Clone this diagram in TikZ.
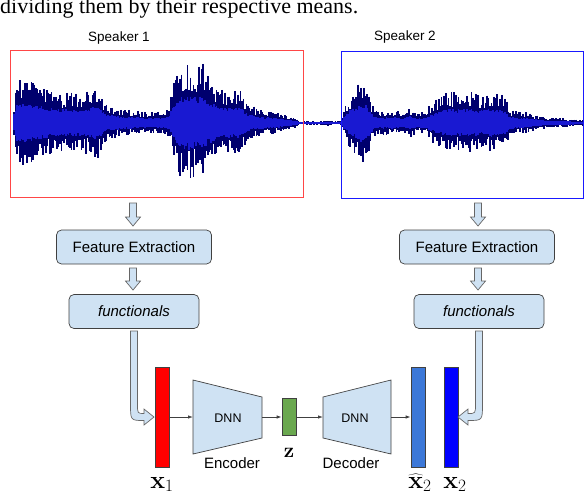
\documentclass[tikz,border=0pt]{standalone}
\usepackage[no-math]{fontspec}
\setmainfont{Liberation Sans}
\newfontfamily\capfont{Liberation Serif}
\usetikzlibrary{arrows.meta,calc}
\definecolor{boxblue}{RGB}{207,226,243}
\definecolor{wavenavy}{RGB}{0,0,110}
\definecolor{waveblue}{RGB}{25,25,210}
\definecolor{spkred}{RGB}{255,70,70}
\definecolor{spkblue}{RGB}{25,25,255}
\definecolor{zgreen}{RGB}{106,168,79}
\definecolor{hatblue}{RGB}{60,120,216}
\tikzset{
  wavedark/.style={draw=wavenavy,line width=1.8pt},
  wavecore/.style={draw=waveblue,line width=1.8pt},
  spkbox/.style={minimum width=293pt,minimum height=147pt,inner sep=0pt,line width=0.9pt},
  lbl/.style={font=\fontsize{13.5}{16}\selectfont},
  procbox/.style={draw=black!75,fill=boxblue,rounded corners=5pt,minimum height=34pt,
    line width=0.7pt,font=\fontsize{15}{18}\selectfont},
  bentarr/.style={draw=black!60,fill=boxblue,line width=0.7pt},
  featbar/.style={draw=black!75,minimum width=14pt,minimum height=100pt,inner sep=0pt,line width=0.7pt},
  dnnblock/.style={draw=black!75,fill=boxblue,line width=0.7pt},
  conn/.style={draw=black!75,line width=0.8pt,-{Latex[length=5pt,width=3.5pt]}},
  mathlbl/.style={anchor=base,font=\fontsize{23}{27}\selectfont},
  txt/.style={font=\fontsize{15}{18}\selectfont},
}
% envelope of the two recordings: x / amplitude
\def\envelope{14/20, 17/42, 22/46, 30/42, 40/38, 50/33, 60/30, 70/32, 80/30, 90/34, 98/38,
  102/28, 108/18, 115/16, 125/14, 135/13, 145/11, 155/11, 165/12, 170/18, 174/42, 180/56,
  186/62, 195/58, 203/60, 208/50, 215/40, 222/34, 232/36, 242/34, 248/20, 255/16, 265/13,
  275/12, 285/8, 295/5, 300/2, 310/2, 320/1.5, 328/3, 334/2, 341/2, 344/14, 350/28, 356/36,
  361/45, 366/40, 370/25, 375/14, 385/13, 395/13, 402/10, 410/16, 418/10, 425/12, 432/20,
  440/28, 450/32, 460/30, 470/32, 480/28, 490/32, 500/30, 505/26, 510/14, 520/12, 530/10,
  540/7, 550/5, 560/5, 570/4, 583/3}

\begin{document}
\begin{tikzpicture}[x=1pt,y=-1pt]
  \useasboundingbox (0,0) rectangle (584,496);
  \node[anchor=base west,inner sep=0pt,font=\capfont\fontsize{22}{25}\selectfont] (cap) at (0,13)
    {dividing them by their respective means.};

  % waveform
  \pgfmathsetseed{3}
  \foreach \xb/\ab [remember=\xb as \xa (initially 12), remember=\ab as \aa (initially 2)] in \envelope {
    \pgfmathtruncatemacro\ns{max(1,(\xb-\xa)/1.3)}
    \foreach \i in {1,...,\ns} {
      \pgfmathsetmacro\xx{\xa+(\xb-\xa)*\i/\ns}
      \pgfmathsetmacro\env{\aa+(\ab-\aa)*\i/\ns}
      \pgfmathsetmacro\up{\env*(0.5+0.5*rnd)}
      \pgfmathsetmacro\dn{\env*(0.45+0.5*rnd)}
      \draw[wavedark] (\xx,123-\up) -- (\xx,123+\dn);
    }
  }
  \foreach \xb/\ab [remember=\xb as \xa (initially 12), remember=\ab as \aa (initially 2)] in \envelope {
    \pgfmathtruncatemacro\ns{max(1,(\xb-\xa)/1.3)}
    \foreach \i in {1,...,\ns} {
      \pgfmathsetmacro\xx{\xa+(\xb-\xa)*\i/\ns}
      \pgfmathsetmacro\env{\aa+(\ab-\aa)*\i/\ns}
      \pgfmathsetmacro\up{\env*(0.34+0.12*rnd)}
      \pgfmathsetmacro\dn{\env*(0.32+0.12*rnd)}
      \draw[wavecore] (\xx,123-\up) -- (\xx,123+\dn);
    }
  }

  \node[spkbox,draw=spkred] (spk1) at (156.5,123.5) {};
  \node[spkbox,draw=spkblue,minimum width=242pt] (spk2) at (462,124.5) {};
  \node[lbl] (lab1) at (119,38) {Speaker 1};
  \node[lbl] (lab2) at (405,37) {Speaker 2};

  % feature pipelines
  \node[procbox,minimum width=155pt] (fe1) at (134,247) {Feature Extraction};
  \node[procbox,minimum width=130pt] (fn1) at (134,311.5) {\textit{functionals}};
  \node[procbox,minimum width=155pt] (fe2) at (477,247) {Feature Extraction};
  \node[procbox,minimum width=130pt] (fn2) at (479,311.5) {\textit{functionals}};
  \foreach \ax/\ya/\yb in {133/203/226, 133/268/290, 478/203/226, 478/268/290}
    \draw[bentarr] (\ax-3.5,\ya) -- (\ax-3.5,\yb-9) -- (\ax-7.5,\yb-9) -- (\ax,\yb)
      -- (\ax+7.5,\yb-9) -- (\ax+3.5,\yb-9) -- (\ax+3.5,\ya) -- cycle;

  % vectors
  \node[featbar,fill=red] (x1) at (162,417) {};
  \node[featbar,fill=zgreen,minimum height=37pt] (z) at (289,416.5) {};
  \node[featbar,fill=hatblue] (x2hat) at (418,417) {};
  \node[featbar,fill=blue] (x2) at (451,417) {};

  \draw[bentarr] (130.5,331) -- (130.5,404) .. controls (130.5,420.5) .. (144,420.5) -- (144,425)
    -- (154,417) -- (144,409) -- (144,413.5) .. controls (137.5,413.5) .. (137.5,404) -- (137.5,331) -- cycle;
  \draw[bentarr] (482.5,331) -- (482.5,404) .. controls (482.5,420.5) .. (468,420.5) -- (468,425)
    -- (458,417) -- (468,409) -- (468,413.5) .. controls (475.5,413.5) .. (475.5,404) -- (475.5,331) -- cycle;

  % encoder / decoder
  \draw[dnnblock] (193,380) -- (262,397) -- (262,438) -- (193,454) -- cycle;
  \draw[dnnblock] (323,397) -- (391,380) -- (391,454) -- (323,438) -- cycle;
  \coordinate (encin) at (193,417);
  \coordinate (encout) at (262,417);
  \coordinate (decin) at (323,417);
  \coordinate (decout) at (391,417);
  \node[font=\fontsize{12.5}{15}\selectfont] (dnn1) at (228,418) {DNN};
  \node[font=\fontsize{12.5}{15}\selectfont] (dnn2) at (355,418) {DNN};
  \node[txt] (enc) at (232,463) {Encoder};
  \node[txt] (dec) at (351,463) {Decoder};

  \draw[conn] (x1.east |- encin) -- (encin);
  \draw[conn] (encout) -- (z.west |- encout);
  \draw[conn] (z.east |- decin) -- (decin);
  \draw[conn] (decout) -- (x2hat.west |- decout);

  \node[mathlbl] (lx1) at (162,488) {$\mathbf{x}_1$};
  \node[mathlbl,font=\fontsize{22}{26}\selectfont] (lz) at (289,457) {$\mathbf{z}$};
  \node[mathlbl] (lx2hat) at (420,488) {$\widehat{\mathbf{x}}_2$};
  \node[mathlbl] (lx2) at (455,488) {$\mathbf{x}_2$};
\end{tikzpicture}
\end{document}
